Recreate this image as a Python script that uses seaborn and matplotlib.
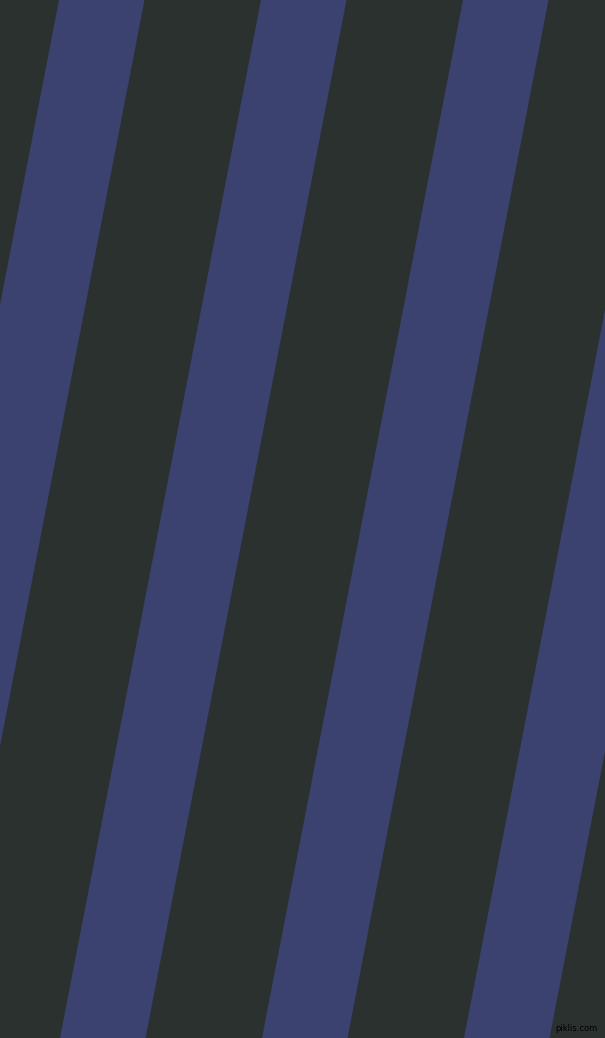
import seaborn as sns
from matplotlib import pyplot as plt

# canvas size in pixels
width_px = 605
height_px = 1038

# left edge of each blue band where it meets the top edge
band_left_top = [59, 261, 463, 665]
band_width = 85.5
# horizontal drift of every band from top to bottom
band_drift = 201

background_color = "#2b312f"
band_color = "#3b4270"

if __name__ == "__main__":
    sns.set_theme(style="white")
    fig = plt.figure(figsize=(6.05, 10.38), dpi=100)
    ax = fig.add_axes([0, 0, 1, 1])
    ax.set_facecolor(background_color)
    fig.patch.set_facecolor(background_color)

    for left in band_left_top:
        xs = [left, left + band_width, left + band_width - band_drift, left - band_drift]
        ys = [0, 0, height_px, height_px]
        ax.fill(xs, ys, color=band_color, linewidth=0)

    ax.text(597, 1031, "piklis.com", fontsize=6, color="black", ha="right", va="baseline")

    ax.set_xlim(0, width_px)
    ax.set_ylim(height_px, 0)
    ax.axis("off")
    fig.savefig("out.png", dpi=100, facecolor=background_color)
